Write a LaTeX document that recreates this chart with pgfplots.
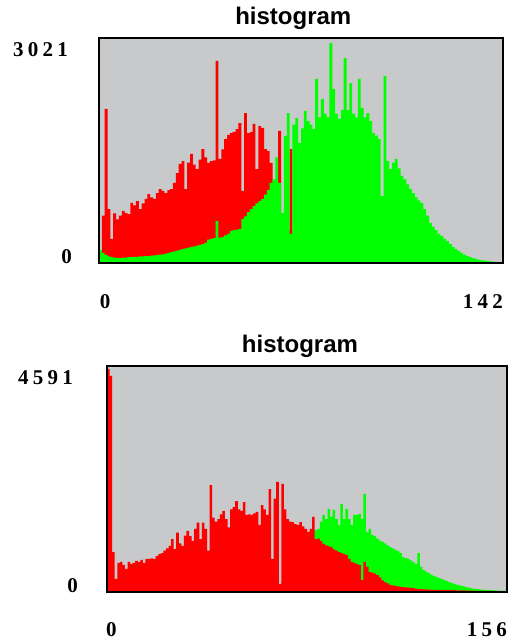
\documentclass[border=0pt]{standalone}
\usepackage{fontspec}
\setmainfont{Liberation Sans}
\newfontfamily\numfont[LetterSpace=20]{Liberation Serif}
\usepackage{pgfplots}
\usepackage{pgfplotstable}
\pgfplotsset{compat=1.18}

\definecolor{histbg}{RGB}{199,201,202}
\definecolor{histred}{RGB}{255,0,0}
\definecolor{histgreen}{RGB}{0,255,0}

% top histogram, bins 0..142 (r = red, g = green)
\pgfplotstableread{
r g
0 180
650 140
2115 110
740 90
330 80
680 75
600 70
650 70
715 75
690 75
670 80
825 80
790 85
850 85
740 90
820 90
880 95
945 95
900 100
880 105
960 110
1015 115
990 120
960 130
1000 140
1015 150
1100 160
1235 170
1360 180
1400 190
1015 200
1380 210
1500 220
1350 230
1290 240
1420 250
1565 260
1450 280
1375 320
1400 330
1410 340
2775 575
1430 350
1560 360
1700 380
1760 400
1785 440
1800 450
1840 460
1920 465
990 605
2060 640
1785 700
1800 740
1910 780
1290 820
1880 850
1855 880
1565 940
1540 1000
1375 1100
1100 1150
900 1450
1815 1100
600 690
500 1745
450 2060
1565 400
400 1900
300 1990
250 1650
200 1850
150 2090
0 1950
0 1900
0 1840
0 2530
0 2000
0 2250
0 2050
0 2000
0 3021
0 2390
0 2050
0 1980
0 2100
0 2815
0 2100
0 2470
0 2050
0 2000
0 2530
0 2130
0 2000
0 2060
0 1950
0 1785
0 1750
0 1700
0 920
0 2570
0 1400
0 1290
0 1380
0 1430
0 1300
0 1195
0 1150
0 1080
0 1015
0 960
0 900
0 860
0 825
0 740
0 650
0 550
0 500
0 450
0 400
0 370
0 330
0 300
0 260
0 220
0 190
0 165
0 140
0 115
0 95
0 80
0 68
0 58
0 48
0 40
0 34
0 28
0 24
0 20
0 17
0 15
0 12
0 10
}\topdata

% bottom histogram, bins 0..156
\pgfplotstableread{
r g
4591 0
4450 0
820 0
270 0
600 0
620 0
560 0
475 0
620 0
580 0
600 0
640 0
620 0
660 0
600 0
680 0
680 0
690 0
680 0
740 0
780 0
800 0
850 0
900 0
950 0
1090 0
885 0
1225 0
1000 0
950 0
1160 0
1260 0
1150 0
1055 0
1300 0
1430 0
1090 0
1430 0
1300 0
850 0
2200 0
1530 0
1450 0
1500 0
1600 0
1670 0
1500 0
1330 0
1700 0
1750 0
1870 0
1700 0
1670 0
1850 0
1590 0
1600 0
1590 0
1620 0
1650 0
1380 0
1790 0
1700 0
1590 0
2120 0
680 0
1920 0
2265 0
165 0
2225 200
1700 350
1500 500
1450 600
1440 700
1400 800
1380 900
1440 1000
1350 1050
1300 1100
1240 1150
1300 1200
1545 1250
1090 1280
1100 1300
1050 1450
990 1590
960 1500
940 1710
925 1550
880 1690
850 1500
820 1380
800 1810
780 1500
760 1710
680 1500
620 1380
600 1590
580 1590
555 1610
245 1500
620 2020
520 1240
410 1300
400 1175
380 1150
350 1100
300 1060
240 1030
205 1000
180 960
145 925
135 900
125 870
115 840
105 800
100 720
95 700
90 680
85 650
80 620
70 580
60 800
58 520
55 450
52 420
50 390
48 360
46 330
44 310
42 290
41 270
40 250
40 225
40 205
40 185
38 165
36 150
35 135
34 125
32 110
30 95
28 85
27 75
26 65
25 60
24 55
23 50
22 46
21 42
20 40
20 36
20 33
20 30
20 28
18 25
15 22
12 20
}\bottomdata

\pgfplotsset{
  histo/.style={
    scale only axis,
    anchor=north west,
    clip=false,
    axis background/.style={fill=histbg},
    axis line style={line width=1.2pt, black},
    axis on top,
    xtick=\empty, ytick=\empty,
    ymin=0,
    title style={font=\bfseries\fontsize{24}{24}\selectfont, anchor=base, yshift=8pt},
  },
  bars/.style={const plot, draw=none, fill=#1},
}
\tikzset{numlabel/.style={font=\numfont\bfseries\fontsize{21}{21}\selectfont, inner sep=0pt}}

\begin{document}
\begin{tikzpicture}
\path[fill=white] (0pt,0pt) rectangle (508pt,-640pt);

\begin{axis}[histo, at={(99pt,-38pt)}, width=404pt, height=225pt,
    xmin=0, xmax=142, ymax=3090,
    title={histogram}, title style={at={(0.481,1)}}]
\addplot[bars=histred] table[x expr=\coordindex, y=r] {\topdata} \closedcycle;
\addplot[bars=histgreen] table[x expr=\coordindex, y=g] {\topdata} \closedcycle;
\node[numlabel, anchor=east, xshift=-31pt] at (axis description cs:0,0.947) {3021};
\node[numlabel, anchor=east, xshift=-27pt] at (axis description cs:0,0.027) {0};
\node[numlabel, anchor=center, yshift=-39pt] at (axis description cs:0.015,0) {0};
\node[numlabel, anchor=east, yshift=-39pt] at (axis description cs:1,0) {142};
\end{axis}

\begin{axis}[histo, at={(107pt,-366pt)}, width=400pt, height=226pt,
    xmin=0, xmax=156, ymax=4653,
    title={histogram}, title style={at={(0.4825,1)}}]
\addplot[bars=histgreen] table[x expr=\coordindex, y=g] {\bottomdata} \closedcycle;
\addplot[bars=histred] table[x expr=\coordindex, y=r] {\bottomdata} \closedcycle;
\node[numlabel, anchor=east, xshift=-34pt] at (axis description cs:0,0.947) {4591};
\node[numlabel, anchor=east, xshift=-29pt] at (axis description cs:0,0.027) {0};
\node[numlabel, anchor=center, yshift=-38pt] at (axis description cs:0.011,0) {0};
\node[numlabel, anchor=east, yshift=-38pt] at (axis description cs:1,0) {156};
\end{axis}
\end{tikzpicture}
\end{document}
